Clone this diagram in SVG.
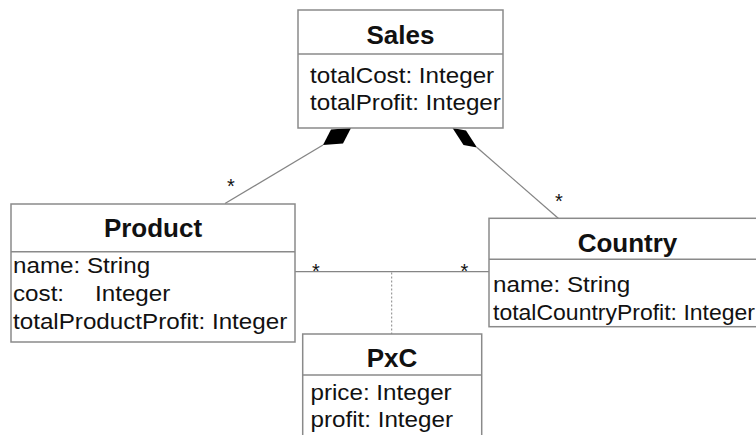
<svg xmlns="http://www.w3.org/2000/svg" width="756" height="435" viewBox="0 0 756 435">
<style>
.box{fill:#fff;stroke:#8a8a8a;stroke-width:1.5}
.div{stroke:#8a8a8a;stroke-width:1.5}
.ln{stroke:#858585;stroke-width:1.3;fill:none}
.dot{stroke:#858585;stroke-width:1;stroke-dasharray:2,2;fill:none}
.dia{fill:#000;stroke:none}
.ttl{font-family:"Liberation Sans",Arial,sans-serif;font-weight:bold;font-size:26px;fill:#111;text-anchor:middle}
.att{font-family:"Liberation Sans",Arial,sans-serif;font-size:22px;fill:#111}
.star{font-family:"Liberation Sans",Arial,sans-serif;font-size:20px;fill:#111;text-anchor:middle}
</style>
<rect width="756" height="435" fill="#fff"/>
<g id="connectors">
<line class="ln" x1="225" y1="203.5" x2="323" y2="145"/>
<polygon class="dia" points="323,145 343,143.5 351,128 331,129.5"/>
<line class="ln" x1="477" y1="147.5" x2="558.5" y2="218.5"/>
<polygon class="dia" points="477,147.5 463.5,145 452.5,128 466,130.5"/>
<line class="ln" x1="295" y1="271.7" x2="489" y2="271.7"/>
<line class="dot" x1="391.7" y1="272.5" x2="391.7" y2="334"/>
<text class="star" x="231" y="193">*</text>
<text class="star" x="559" y="208">*</text>
<text class="star" x="316" y="278">*</text>
<text class="star" x="464.3" y="278">*</text>
</g>
<g id="sales">
<rect class="box" x="298" y="10" width="205" height="118"/>
<line class="div" x1="298" y1="54" x2="503" y2="54"/>
<text class="ttl" x="400.5" y="44">Sales</text>
<text class="att" transform="translate(310,83) scale(1.1,1)">totalCost: Integer</text>
<text class="att" transform="translate(310,110) scale(1.1,1)">totalProfit: Integer</text>
</g>
<g id="product">
<rect class="box" x="11" y="204" width="284" height="138"/>
<line class="div" x1="11" y1="251.7" x2="295" y2="251.7"/>
<text class="ttl" x="153" y="236.5">Product</text>
<text class="att" transform="translate(13,273) scale(1.1,1)">name: String</text>
<text class="att" transform="translate(13,301) scale(1.1,1)">cost:</text>
<text class="att" transform="translate(95,301) scale(1.1,1)">Integer</text>
<text class="att" transform="translate(13,329) scale(1.1,1)">totalProductProfit: Integer</text>
</g>
<g id="country">
<rect class="box" x="489" y="218.3" width="280" height="108.4"/>
<line class="div" x1="489" y1="259.3" x2="769" y2="259.3"/>
<text class="ttl" x="627.5" y="251.5">Country</text>
<text class="att" transform="translate(493,292) scale(1.1,1)">name: String</text>
<text class="att" transform="translate(493,320) scale(1.045,1)">totalCountryProfit: Integer</text>
</g>
<g id="pxc">
<rect class="box" x="302.7" y="334" width="179" height="110"/>
<line class="div" x1="302.7" y1="375" x2="481.7" y2="375"/>
<text class="ttl" x="392" y="367">PxC</text>
<text class="att" transform="translate(310.5,400) scale(1.1,1)">price: Integer</text>
<text class="att" transform="translate(310.5,427) scale(1.1,1)">profit: Integer</text>
</g>
</svg>
